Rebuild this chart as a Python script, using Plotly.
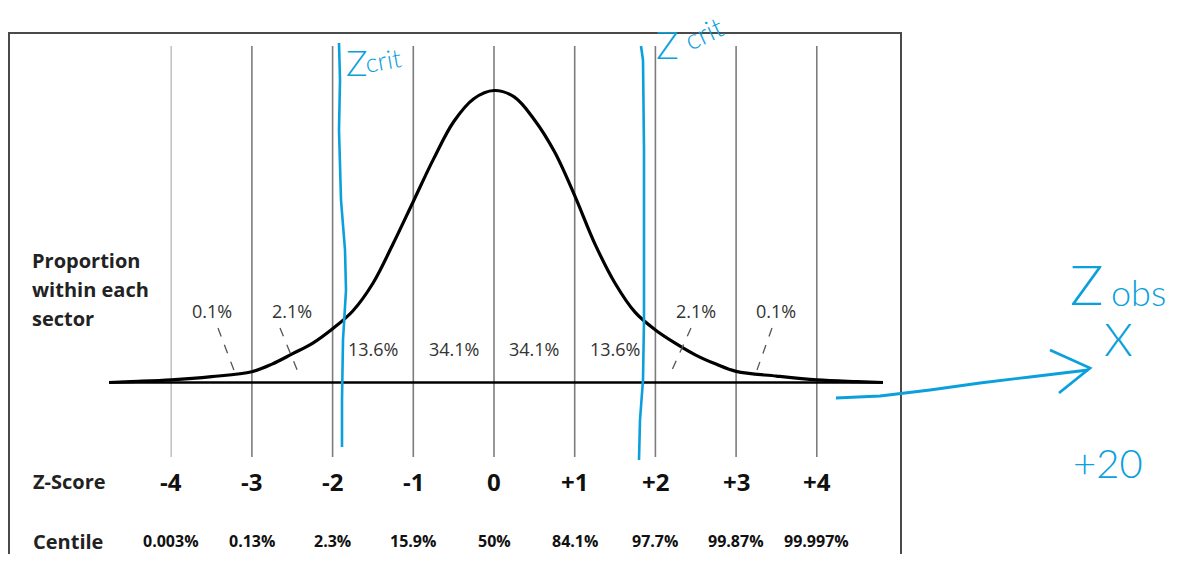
import plotly.graph_objects as go

# ---------------- data ----------------
z_values = [-4, -3, -2, -1, 0, 1, 2, 3, 4]
z_labels = ["-4", "-3", "-2", "-1", "0", "+1", "+2", "+3", "+4"]
centile_labels = ["0.003%", "0.13%", "2.3%", "15.9%", "50%", "84.1%", "97.7%", "99.87%", "99.997%"]
sector_labels = ["0.1%", "2.1%", "13.6%", "34.1%", "34.1%", "13.6%", "2.1%", "0.1%"]

curve_z = [-4.77, -4.5, -4.0, -3.5, -3.0, -2.75, -2.5, -2.25, -2.0, -1.75, -1.5, -1.25,
           -1.0, -0.75, -0.5, -0.25, 0.0, 0.25, 0.5, 0.75, 1.0, 1.25, 1.5, 1.75,
           2.0, 2.25, 2.5, 2.75, 3.0, 3.5, 4.0, 4.5, 4.82]
curve_h = [0.0, 0.003, 0.009, 0.02, 0.037, 0.063, 0.098, 0.134, 0.184, 0.245, 0.34, 0.475,
           0.62, 0.765, 0.893, 0.972, 1.0, 0.978, 0.90, 0.79, 0.64, 0.475, 0.34, 0.24,
           0.18, 0.134, 0.094, 0.063, 0.038, 0.022, 0.009, 0.003, 0.0]

# ---------------- layout helpers (pixel -> data) ----------------
W, H = 1163, 546          # page body has an 8px margin
OFF = 8
X0, PXU = 494.0, 80.7     # pixel of z=0, pixels per z unit
Y0, PYU = 382.5, 292.0    # pixel of baseline, pixels per unit height


def zx(px):
    return (px - X0) / PXU


def hy(py):
    return (Y0 - py) / PYU


BLUE = "#0aa0dc"
TEXT_FONT = "Open Sans"
HAND_FONT = "Lato"

fig = go.Figure()

# vertical grid lines at each z score
for z in z_values:
    fig.add_trace(go.Scatter(
        x=[z, z], y=[hy(46), hy(457)], mode="lines",
        line=dict(color="#c4c4c4" if z == z_values[0] else "#7d7d7d", width=1.6),
        hoverinfo="skip", showlegend=False))

# baseline
fig.add_trace(go.Scatter(
    x=[curve_z[0], curve_z[-1]], y=[0, 0], mode="lines",
    line=dict(color="black", width=2.6), hoverinfo="skip", showlegend=False))

# bell curve
fig.add_trace(go.Scatter(
    x=curve_z, y=curve_h, mode="lines",
    line=dict(color="black", width=3.2, shape="spline", smoothing=1.0),
    hoverinfo="skip", showlegend=False))

shapes = []
# frame
shapes.append(dict(type="rect", xref="x", yref="y", x0=zx(9), x1=zx(901), y0=hy(33), y1=hy(600),
                   line=dict(color="#4a4a4a", width=2), layer="below"))

# dashed leader lines (label -> curve)
leaders = [((218, 328), (235, 373)), ((280, 328), (298, 372)),
           ((691, 328), (672, 370)), ((772, 328), (757, 370))]
for (a, b) in leaders:
    shapes.append(dict(type="line", xref="x", yref="y", x0=zx(a[0]), y0=hy(a[1]),
                       x1=zx(b[0]), y1=hy(b[1]),
                       line=dict(color="#555555", width=1.3, dash="dash")))


def path_from(points):
    s = "M {} {}".format(zx(points[0][0]), hy(points[0][1]))
    for p in points[1:]:
        s += " L {} {}".format(zx(p[0]), hy(p[1]))
    return s


# blue hand-drawn critical lines
crit1 = [(339, 43), (340, 80), (339, 130), (341, 200), (345, 250), (346, 290), (343, 340), (342, 400), (342, 447)]
crit2 = [(641, 46), (643, 60), (644, 150), (644, 250), (644, 320), (643, 380), (640, 420), (639, 460)]
for pts in (crit1, crit2):
    shapes.append(dict(type="path", xref="x", yref="y", path=path_from(pts),
                       line=dict(color=BLUE, width=2.6)))

# blue arrow
arrow = [(836, 398), (880, 396), (930, 390), (980, 383), (1030, 377), (1088, 370)]
shapes.append(dict(type="path", xref="x", yref="y", path=path_from(arrow), line=dict(color=BLUE, width=2.8)))
chev = [(1050, 350), (1090, 368), (1059, 393)]
shapes.append(dict(type="path", xref="x", yref="y", path=path_from(chev), line=dict(color=BLUE, width=2.8)))

annotations = []


def txt(text, px, py, size, bold=False, color="#222222", xanchor="center", family=TEXT_FONT,
        angle=0, weight=None):
    f = dict(family=family, size=size, color=color)
    if weight is not None:
        f["weight"] = weight
    annotations.append(dict(
        text=("<b>%s</b>" % text) if bold else text, x=zx(px), y=hy(py), xref="x", yref="y",
        showarrow=False, xanchor=xanchor, yanchor="middle", font=f, textangle=angle))


# left captions
txt("Proportion", 30, 260, 20, bold=True, xanchor="left")
txt("within each", 30, 289, 20, bold=True, xanchor="left")
txt("sector", 30, 318, 20, bold=True, xanchor="left")
txt("Z-Score", 31, 481, 20, bold=True, xanchor="left")
txt("Centile", 31, 541, 20, bold=True, xanchor="left")

# sector percentages
for i, lab in enumerate(sector_labels):
    mid = (z_values[i] + z_values[i + 1]) / 2
    outer = i in (0, 1, len(sector_labels) - 2, len(sector_labels) - 1)
    annotations.append(dict(
        text=lab, x=mid, y=hy(311 if outer else 349), xref="x", yref="y", showarrow=False,
        font=dict(family=TEXT_FONT, size=18, color="#333333")))

# z-score and centile labels
for z, lab, cen in zip(z_values, z_labels, centile_labels):
    annotations.append(dict(text="<b>%s</b>" % lab, x=z, y=hy(481), xref="x", yref="y",
                            showarrow=False, font=dict(family=TEXT_FONT, size=24, color="#111111")))
    annotations.append(dict(text="<b>%s</b>" % cen, x=z, y=hy(541), xref="x", yref="y",
                            showarrow=False, font=dict(family=TEXT_FONT, size=16, color="#111111")))

# blue handwriting
txt("Z", 357, 62, 36, color=BLUE, family=HAND_FONT, weight=300)
txt("crit", 383, 60, 26, color=BLUE, family=HAND_FONT, weight=300, angle=-10)
txt("Z", 667, 44, 38, color=BLUE, family=HAND_FONT, weight=300)
txt("crit", 703, 33, 28, color=BLUE, family=HAND_FONT, weight=300, angle=-25)
txt("Z", 1086, 283, 56, color=BLUE, family=HAND_FONT, weight=300)
txt("obs", 1138, 292, 36, color=BLUE, family=HAND_FONT, weight=300)
txt("X", 1118, 338, 46, color=BLUE, family=HAND_FONT, weight=300)
txt("+20", 1108, 463, 40, color=BLUE, family=HAND_FONT, weight=300)

fig.update_layout(
    width=W, height=H, autosize=False,
    margin=dict(l=0, r=0, t=0, b=0),
    paper_bgcolor="white", plot_bgcolor="white",
    showlegend=False,
    xaxis=dict(range=[zx(OFF), zx(OFF + W)], visible=False, fixedrange=True),
    yaxis=dict(range=[hy(OFF + H), hy(OFF)], visible=False, fixedrange=True),
    shapes=shapes, annotations=annotations,
)

fig.write_html("out.html")
